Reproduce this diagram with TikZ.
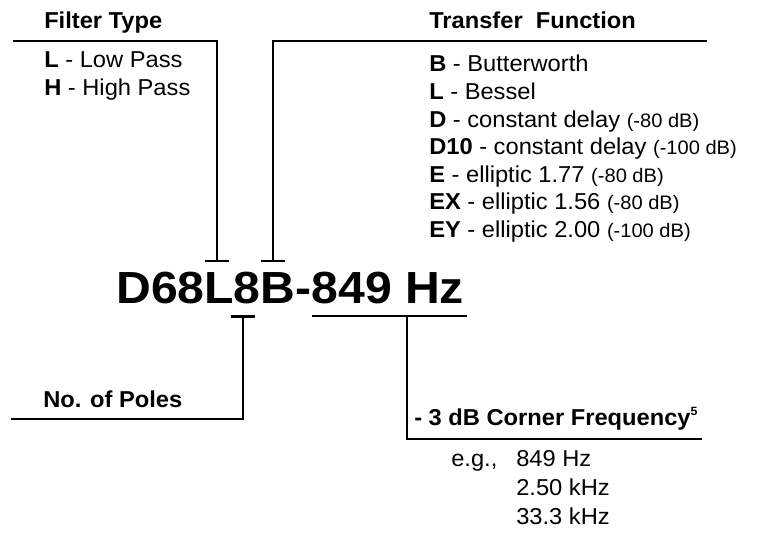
\documentclass[tikz,border=0pt]{standalone}
\usepackage{fontspec}
\setmainfont{Liberation Sans}[FakeStretch=1.03]
\newfontfamily\bigfont{Liberation Sans}[FakeStretch=1.07]
\usetikzlibrary{arrows.meta}
\newcommand\pdb[1]{{\fontsize{19.5}{22}\selectfont #1}}
\begin{document}
\begin{tikzpicture}[x=1pt,y=-1pt,line width=2.5pt,
  lbl/.style={anchor=base west,inner sep=0pt,font=\fontsize{23}{26}\selectfont},
  hdr/.style={lbl,font=\bfseries\fontsize{23}{26}\selectfont},
  tbar/.style={-{Bar[width=24pt,line width=2.5pt]}}]
\useasboundingbox (0,0) rectangle (758,535);
% headers
\node[hdr] (ft) at (43,29) {Filter Type};
\node[hdr] (tf) at (428,29) {Transfer\ \ Function};
\node[hdr] (np) at (42,407) {No. of Poles};
\node[hdr] (cf) at (413,425) {- 3 dB Corner Frequency\textsuperscript{\fontsize{12}{12}\selectfont 5}};
% filter type list
\node[lbl] (lp) at (43,68) {\textbf{L} - Low Pass};
\node[lbl] (hp) at (43,95.5) {\textbf{H} - High Pass};
% transfer function list
\node[lbl] (tb) at (428,72) {\textbf{B} - Butterworth};
\node[lbl] (tl) at (428,99.5) {\textbf{L} - Bessel};
\node[lbl] (td) at (428,127) {\textbf{D} - constant delay \pdb{(-80 dB)}};
\node[lbl] (tdx) at (428,154.5) {\textbf{D10} - constant delay \pdb{(-100 dB)}};
\node[lbl] (te) at (428,182) {\textbf{E} - elliptic 1.77 \pdb{(-80 dB)}};
\node[lbl] (tex) at (428,209.5) {\textbf{EX} - elliptic 1.56 \pdb{(-80 dB)}};
\node[lbl] (tey) at (428,237) {\textbf{EY} - elliptic 2.00 \pdb{(-100 dB)}};
% main code
\node[anchor=base west,inner sep=0pt,font=\bigfont\bfseries\fontsize{45}{50}\selectfont] (code) at (115,303) {D68L8B-849 Hz};
% examples
\node[lbl] (eg) at (450,466) {e.g.,};
\node[lbl] (f1) at (515,466) {849 Hz};
\node[lbl] (f2) at (515,495) {2.50 kHz};
\node[lbl] (f3) at (515,524) {33.3 kHz};
% connectors
\coordinate (ftS) at (13,41);
\coordinate (ftC) at (217,41);
\coordinate (ftE) at (217,262);
\draw[tbar] (ftS) -- (ftC) -- (ftE);
\coordinate (tfS) at (707,41);
\coordinate (tfC) at (273,41);
\coordinate (tfE) at (273,262);
\draw[tbar] (tfS) -- (tfC) -- (tfE);
\coordinate (npS) at (11,419);
\coordinate (npC) at (243,419);
\coordinate (npE) at (243,315);
\draw[tbar] (npS) -- (npC) -- (npE);
\coordinate (hzL) at (312,316);
\coordinate (hzR) at (467,316);
\coordinate (hzM) at (407,316);
\coordinate (cfC) at (407,439);
\coordinate (cfE) at (702,439);
\draw[line width=2pt] (hzL) -- (hzR);
\draw (hzM) -- (cfC) -- (cfE);
\end{tikzpicture}
\end{document}
